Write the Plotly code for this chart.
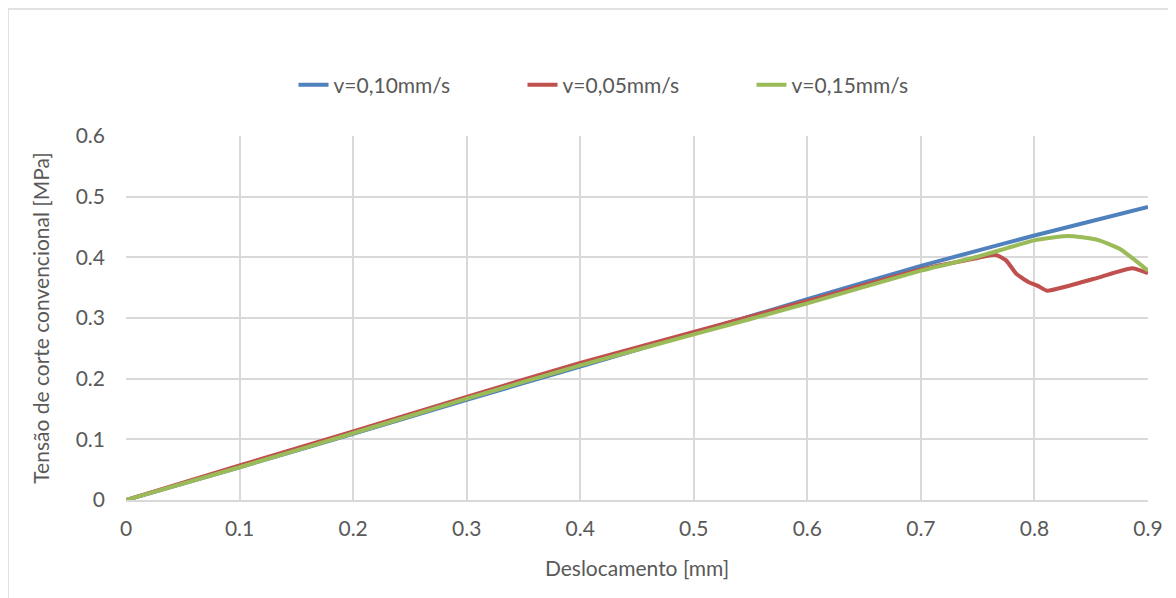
import plotly.graph_objects as go

# Blue series v=0,10 mm/s
x_v10 = [0.0, 0.1, 0.2, 0.3, 0.4, 0.5, 0.6, 0.7, 0.75, 0.8, 0.9]
y_v10 = [0.0, 0.054, 0.109, 0.165, 0.220, 0.275, 0.331, 0.386, 0.411, 0.436, 0.483]

# Red series v=0,05 mm/s
x_v05 = [0.0, 0.1, 0.2, 0.3, 0.4, 0.5, 0.6, 0.7, 0.75, 0.766, 0.775, 0.784,
         0.795, 0.803, 0.811, 0.828, 0.857, 0.886, 0.9]
y_v05 = [0.0, 0.057, 0.113, 0.170, 0.226, 0.277, 0.328, 0.380, 0.399, 0.404,
         0.395, 0.373, 0.359, 0.353, 0.345, 0.352, 0.367, 0.382, 0.374]

# Green series v=0,15 mm/s
x_v15 = [0.0, 0.1, 0.2, 0.3, 0.4, 0.5, 0.6, 0.7, 0.75, 0.8, 0.828, 0.842,
         0.857, 0.875, 0.886, 0.9]
y_v15 = [0.0, 0.054, 0.110, 0.167, 0.222, 0.273, 0.324, 0.378, 0.401, 0.428,
         0.435, 0.433, 0.428, 0.414, 0.399, 0.378]

names = ["v=0,10mm/s", "v=0,05mm/s", "v=0,15mm/s"]
colors = ["#4f81bd", "#c0504d", "#9bbb59"]

x_ticks = [0, 0.1, 0.2, 0.3, 0.4, 0.5, 0.6, 0.7, 0.8, 0.9]
x_tick_text = ["0", "0.1", "0.2", "0.3", "0.4", "0.5", "0.6", "0.7", "0.8", "0.9"]
y_ticks = [0, 0.1, 0.2, 0.3, 0.4, 0.5, 0.6]
y_tick_text = ["0", "0.1", "0.2", "0.3", "0.4", "0.5", "0.6"]

FONT = "Lato, 'Open Sans', sans-serif"
TXT = "#595959"

fig = go.Figure()
for xs, ys, nm, col in [(x_v10, y_v10, names[0], colors[0]),
                        (x_v05, y_v05, names[1], colors[1]),
                        (x_v15, y_v15, names[2], colors[2])]:
    fig.add_trace(go.Scatter(x=xs, y=ys, name=nm, mode="lines",
                             line=dict(color=col, width=4, shape="spline", smoothing=0.5)))

L, R, T, B = 118, 36, 128, 106
PW = 1176 - L - R
PH = 598 - T - B

fig.update_layout(
    width=1176, height=598,
    margin=dict(l=L, r=R, t=T, b=B),
    paper_bgcolor="white", plot_bgcolor="white",
    font=dict(family=FONT, size=21, color=TXT),
    legend=dict(orientation="h", x=0.5, xanchor="center", y=1.14, yanchor="middle",
                font=dict(size=21, color=TXT), traceorder="normal",
                entrywidth=184, entrywidthmode="pixels", tracegroupgap=0),
    showlegend=True,
)
fig.update_xaxes(range=[0, 0.9], tickvals=x_ticks, ticktext=x_tick_text,
                 showgrid=True, gridcolor="#d9d9d9", gridwidth=1.5,
                 zeroline=False, showline=True, linecolor="#d9d9d9", linewidth=1.5,
                 mirror=False, ticks="", ticklabelstandoff=9,
                 title=dict(text="Deslocamento [mm]", font=dict(size=21, color=TXT), standoff=22))
fig.update_yaxes(range=[0, 0.6], tickvals=y_ticks, ticktext=y_tick_text,
                 showgrid=True, gridcolor="#d9d9d9", gridwidth=1.5,
                 zeroline=False, showline=False, ticks="", ticklabelstandoff=20,
                 title=dict(text="Tensão de corte convencional [MPa]", font=dict(size=21, color=TXT), standoff=20))

# outer chart border (extends beyond the window on right/bottom)
fig.add_shape(type="rect", xref="paper", yref="paper",
              x0=(0 - L) / PW, x1=(1200 - L) / PW,
              y0=-(620 - (598 - B)) / PH, y1=((598 - B) - 1) / PH,
              line=dict(color="#d9d9d9", width=1.5), fillcolor="rgba(0,0,0,0)", layer="below")

fig.write_html("out.html")
